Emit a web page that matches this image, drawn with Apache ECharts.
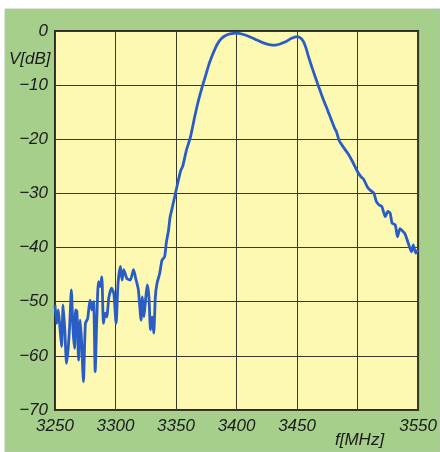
<!DOCTYPE html>
<html>
<head>
<meta charset="utf-8">
<script src="https://cdn.jsdelivr.net/npm/echarts@6/dist/echarts.min.js"></script>
<style>
html,body{margin:0;padding:0;background:#ffffff;}
#chart{width:440px;height:452px;}
</style>
</head>
<body>
<div id="chart"></div>
<script>
// Frequency in MHz
const freqs = [
3250,3251.4,3252.7,3254,3255.4,3256.7,3258.1,3259.5,3260.8,3262.2,3263.5,3264.9,3266.2,3267,3268.1,3269.5,3270.8,3271.9,3273.5,3275.1,3277,3278.9,3280.5,3281.9,3283.2,3284.6,3285.9,3287.3,3288.7,3290,3291.4,3292.7,3294.6,3296.8,3298.6,3300.5,3302.1,3304.1,3305.4,3306.8,3309.4,3312.2,3314.9,3316.7,3318.9,3321.1,3322.2,3323.5,3324.8,3326.2,3327.6,3328.9,3330.3,3331.6,3332.9,3334.3,3336.5,3338.4,3340.6,3341.9,3343.8,3345,3347,3349.2,3352,3354,3355.5,3358.6,3362,3364.9,3368,3371.6,3374.5,3377,3380,3382.4,3385,3387.8,3391,3394.6,3400,3405,3410.8,3416,3421.6,3427,3432.4,3436,3440.5,3445,3450,3453,3455.4,3457.5,3459.4,3462,3464.9,3470.3,3475.7,3481.1,3482.4,3485.1,3491.9,3496,3500,3502.7,3505,3508.1,3510.5,3513.5,3515.5,3517.6,3520,3522.9,3525,3527,3528.5,3531.1,3533,3535,3536.5,3539,3541.9,3544.5,3546,3548,3550
];
// Level in dB
const levels = [
-50.6,-54.0,-51.5,-54.6,-58.3,-50.6,-55.2,-61.4,-58.9,-54.0,-47.8,-55.2,-58.6,-51.5,-51.8,-60.8,-53.4,-57.1,-64.8,-54.0,-53.1,-49.7,-51.5,-50.0,-62.9,-52.8,-46.3,-47.2,-45.4,-54.0,-52.1,-52.8,-49.1,-47.5,-48.5,-54.0,-46.6,-43.5,-46.0,-44.1,-45.7,-46.0,-44.1,-45.7,-47.8,-53.4,-49.1,-52.8,-49.7,-46.9,-49.1,-55.2,-52.8,-55.8,-49.1,-46.6,-44.8,-42.3,-41.7,-39.2,-36.8,-34.5,-32.5,-30.3,-27.5,-25.7,-25.0,-22.0,-19.5,-16.4,-13.3,-10.3,-8.2,-6.3,-4.5,-3.2,-2.1,-1.35,-0.85,-0.55,-0.4,-0.6,-1.05,-1.6,-2.15,-2.5,-2.6,-2.4,-2.0,-1.4,-1.05,-1.3,-2.0,-3.2,-4.7,-6.5,-8.4,-11.8,-14.9,-18.0,-18.5,-20.4,-22.6,-24.2,-26.0,-26.9,-27.4,-28.8,-29.4,-30.0,-31.5,-32.1,-32.4,-34.3,-33.3,-33.7,-35.5,-35.8,-38.0,-36.5,-36.8,-37.4,-39.2,-40.8,-39.5,-41.0,-40.4
];
const xTicksShown = [3250,3300,3350,3400,3450,3550];
const yTicks = [0,-10,-20,-30,-40,-50,-60,-70];
const yAxisTitle = 'V[dB]';
const xAxisTitle = 'f[MHz]';

const data = freqs.map((f,i)=>[f, levels[i]]);
const FONT = '"Liberation Sans", Arial, sans-serif';
const chart = echarts.init(document.getElementById('chart'), null, {renderer:'canvas'});
chart.setOption({
  backgroundColor: '#ffffff',
  animation: false,
  graphic: [
    {type:'rect', z:-10, shape:{x:5,y:9,width:435,height:443}, style:{fill:'#a7cf8c', stroke:'#b9c4b4', lineWidth:1}},
    {type:'text', z:10, left:9, top:51, style:{text:yAxisTitle, font:'italic 17px '+FONT, fill:'#1a1a1a'}},
    {type:'text', z:10, left:335, top:432, style:{text:xAxisTitle, font:'italic 17px '+FONT, fill:'#1a1a1a'}}
  ],
  grid: {left:55, top:31, width:370, height:379, show:true, backgroundColor:'#fdf9b3', borderColor:'#2a2a22', borderWidth:2},
  xAxis: {
    type:'value', min:3250, max:3550, interval:50,
    axisLine:{show:false}, axisTick:{show:false},
    splitLine:{show:true, lineStyle:{color:'#3a3a2c', width:1}},
    axisLabel:{margin:8, color:'#1a1a1a', fontSize:17, fontStyle:'italic', fontFamily:FONT,
      showMinLabel:true, showMaxLabel:true,
      formatter: v => xTicksShown.includes(v) ? String(v) : ''}
  },
  yAxis: {
    type:'value', min:-70, max:0, interval:10,
    axisLine:{show:false}, axisTick:{show:false},
    splitLine:{show:true, lineStyle:{color:'#3a3a2c', width:1}},
    axisLabel:{margin:7, color:'#1a1a1a', fontSize:17, fontStyle:'italic', fontFamily:FONT,
      formatter: v => yTicks.includes(v) ? (v<0 ? '\u2212'+Math.abs(v) : String(v)) : ''}
  },
  series: [{
    type:'line', data:data, showSymbol:false, smooth:0.2,
    lineStyle:{color:'#2a5cc6', width:2.8}
  }]
});
</script>
</body>
</html>
